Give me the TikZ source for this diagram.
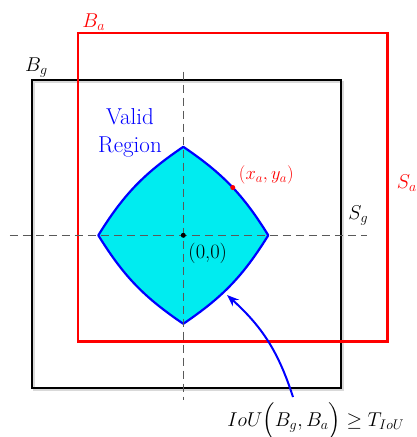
\RequirePackage{fix-cm}
\documentclass[tikz,border=0pt]{standalone}
\usepackage{exscale}
\usepackage{fontspec}
\usepackage{tikz}
\usetikzlibrary{arrows.meta}

\definecolor{validfill}{RGB}{0,236,240}

\begin{document}
\begin{tikzpicture}[x=1pt, y=1pt,
    axis/.style={draw=black!65, line width=1pt, dash pattern=on 8pt off 5pt},
    box/.style={draw=#1, line width=2.4pt},
    region/.style={draw=blue, fill=validfill, line width=2.2pt, line join=round},
    dot/.style={circle, fill=#1, inner sep=0pt, minimum size=5pt},
    lbl/.style={inner sep=0pt, font=\fontsize{20}{24}\selectfont},
    pointer/.style={draw=blue, line width=2pt, -{Stealth[length=12pt, width=9pt]}},
]
\useasboundingbox (-183.3,-201.7) rectangle (233.7,235.3);

\draw[box=black!15, line width=2pt] (-149.5,-154.5) rectangle (159.5,153.5);
\draw[box=black] (-151.5,-152.5) rectangle (157.5,155.5);
\draw[box=red] (-105.5,-106) rectangle (204,202.5);

\coordinate (top) at (0,88.5);
\coordinate (right) at (85,0);
\coordinate (bottom) at (0,-88.5);
\coordinate (left) at (-85,0);
\draw[region] (top) to[bend left=12] (right) to[bend left=12] (bottom)
    to[bend left=12] (left) to[bend left=12] (top) -- cycle;

\draw[axis] (-173.3,0) -- (183.4,0);
\draw[axis] (0,163.6) -- (0,-164.7);

\path (top) to[bend left=12] node[dot=red, pos=0.52] (sample) {} (right);
\node[dot=black] (origin) at (0,0) {};

\node[lbl, text=red, anchor=base west] (Ba) at (-101,208) {$B_a$};
\node[lbl, anchor=base west] (Bg) at (-158.3,164.3) {$B_g$};
\node[lbl, text=blue, align=center, font=\fontsize{23}{27.5}\selectfont] (valid) at (-53.3,102.3) {Valid\\Region};
\node[lbl, text=red, font=\fontsize{18.5}{22}\selectfont] (xy) at (83,60) {$(x_a,y_a)$};
\node[lbl, anchor=base west] (Sg) at (165,16.3) {$S_g$};
\node[lbl, text=red, anchor=base west] (Sa) at (213.5,47.3) {$S_a$};
\node[lbl, anchor=base west, font=\fontsize{20.5}{24}\selectfont] (zero) at (5,-22.7) {(0,0)};
\node[lbl, anchor=base] (iou) at (132.5,-191.4) {$IoU\Bigl(B_g,B_a\Bigr)\geq T_{IoU}$};

\coordinate (foot) at (109.7,-161.7);
\coordinate (tip) at (43.7,-59.7);
\draw[pointer] (foot) to[bend right=15] (tip);
\end{tikzpicture}
\end{document}
